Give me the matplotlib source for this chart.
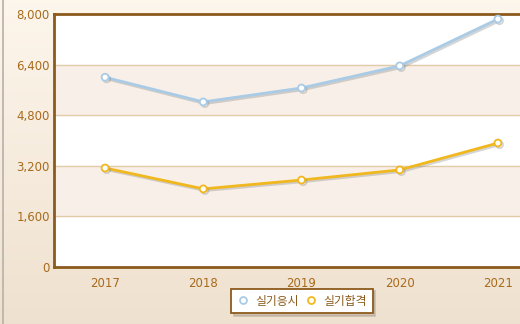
import numpy as np
import matplotlib.pyplot as plt
import matplotlib.patheffects as pe

plt.rcParams['font.family'] = ['DejaVu Sans', 'Noto Sans CJK KR']

years = ['2017', '2018', '2019', '2020', '2021']
applicants = [6000, 5220, 5660, 6360, 7840]
passed = [3130, 2470, 2750, 3070, 3920]
labels = ['실기응시', '실기합격']
yticks = [0, 1600, 3200, 4800, 6400, 8000]

fig = plt.figure(figsize=(5.2, 3.24), dpi=100)

# background gradient
bg = fig.add_axes([0, 0, 1, 1], zorder=-10)
grad = np.linspace(0, 1, 256).reshape(-1, 1)
top = np.array([0.992, 0.965, 0.925])
bot = np.array([0.937, 0.882, 0.812])
img = top + (bot - top) * grad[:, :, None]
bg.imshow(img, aspect='auto', extent=[0, 1, 0, 1])
bg.axvline(0.005, color='#b8b0a8', lw=1.2)
bg.set_axis_off()

ax = fig.add_axes([54 / 520, 57 / 324, 493 / 520, 253 / 324])
ax.set_facecolor('white')
x = np.arange(len(years))
for i in range(len(yticks) - 1):
    if i % 2 == 1:
        ax.axhspan(yticks[i], yticks[i + 1], color='#f8f0e8', zorder=0)
for t in yticks[1:-1]:
    ax.axhline(t, color='#e2cba8', lw=1, zorder=1)

shadow = [pe.SimpleLineShadow(offset=(1.2, -1.2), shadow_color='#888888', alpha=0.35), pe.Normal()]
ax.plot(x, applicants, color='#a9cbe6', lw=2, marker='o', ms=5,
        mfc='white', mec='#a9cbe6', mew=1.3, label=labels[0], zorder=3,
        path_effects=shadow)
ax.plot(x, passed, color='#f0b81e', lw=2, marker='o', ms=5,
        mfc='white', mec='#f0b81e', mew=1.3, label=labels[1], zorder=3,
        path_effects=shadow)

ax.set_xlim(-0.52, 4.5)
ax.set_ylim(0, 8000)
ax.set_xticks(x)
ax.set_xticklabels(years)
ax.set_yticks(yticks)
ax.set_yticklabels([f'{v:,}' for v in yticks])
ax.tick_params(length=0, colors='#a86a1c', labelsize=8.5)
ax.tick_params(axis='x', pad=7)
ax.tick_params(axis='y', pad=3)
for s in ['left', 'bottom', 'top']:
    ax.spines[s].set_color('#8c5a1c')
    ax.spines[s].set_linewidth(2)
ax.spines['right'].set_visible(False)

leg = fig.legend(loc='center', bbox_to_anchor=(302 / 520, 1 - 301 / 324), ncol=2,
                 fontsize=8.5, frameon=True, fancybox=False,
                 shadow={'color': '#b0a090', 'alpha': 0.5, 'ox': 2, 'oy': -2},
                 handlelength=1.0, handletextpad=0.5, columnspacing=0.6,
                 borderpad=0.5)
for h in leg.legend_handles:
    h.set_linestyle('none')
    h.set_path_effects([])
leg.get_frame().set_edgecolor('#8c5a1c')
leg.get_frame().set_linewidth(1.3)
for t in leg.get_texts():
    t.set_color('#8c5a1c')

fig.savefig('out.png', dpi=100)
